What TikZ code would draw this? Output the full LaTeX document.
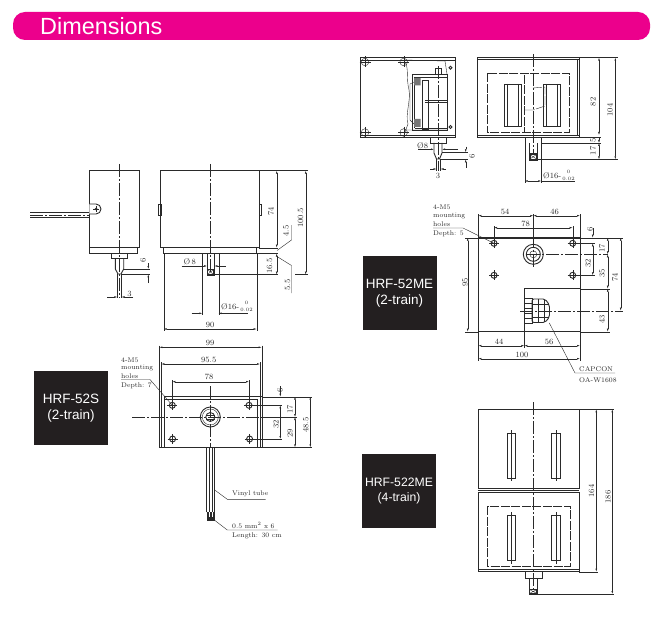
\documentclass[tikz,border=0pt]{standalone}
\usepackage{amsmath}
\usepackage{fontspec}
\usepackage{tikz}
\usetikzlibrary{arrows.meta}
\newfontfamily\bannerfont{Liberation Sans}
\definecolor{bannerpink}{HTML}{EC008C}
\definecolor{boxblack}{HTML}{231F20}
\definecolor{inkgrey}{HTML}{2A2A2A}
\def\screwhole#1#2{\draw[thick line] (#1,#2) circle (3);
  \draw[thin line] (#1-5,#2) -- (#1+5,#2) (#1,#2-5) -- (#1,#2+5);}
\def\cornerhole#1#2{\draw[thin line] (#1,#2) circle (3.8);
  \draw[thin line] (#1-5.5,#2) -- (#1+5.5,#2) (#1,#2-5.5) -- (#1,#2+5.5);}
\def\boretol{Ø16-\,\raisebox{-2.6pt}{\shortstack{\fontsize{5}{5.2}\selectfont 0\\[0.6pt]\fontsize{5}{5.2}\selectfont 0.02}}}
\begin{document}
\begin{tikzpicture} [x=1pt, y=-1pt,
    thick line/.style={line width=0.9pt, draw=inkgrey},
    thin line/.style={line width=0.4pt, draw=inkgrey},
    axis line/.style={line width=0.4pt, draw=inkgrey, dash pattern=on 13pt off 2pt on 2pt off 2pt},
    hidden line/.style={line width=0.4pt, draw=inkgrey, dash pattern=on 9pt off 1.5pt},
    dimen/.style={line width=0.4pt, draw=inkgrey, {Latex[length=3pt,width=1.7pt]}-{Latex[length=3pt,width=1.7pt]}},
    inward/.style={line width=0.4pt, draw=inkgrey, -{Latex[length=3pt,width=1.7pt]}},
    lab/.style={inner sep=0pt, font=\fontsize{8}{8.5}\selectfont, text=inkgrey},
    vlab/.style={lab, rotate=90},
    note/.style={lab, anchor=west, font=\fontsize{6.8}{7}\selectfont},
    tag/.style={fill=boxblack, minimum width=74pt, minimum height=74pt, inner sep=0pt, align=center,
      text=white, font=\bannerfont\fontsize{13.5}{15.5}\selectfont}
  ]
  \useasboundingbox (0,0) rectangle (652,620);
  \fill[white] (0,0) rectangle (652,620);

  % banner
  \fill[bannerpink, rounded corners=12pt] (13,12) rectangle (650,40);
  \node[anchor=west, inner sep=0pt, text=white, font=\bannerfont\fontsize{23.4}{24}\selectfont] (title) at (40,26) {Dimensions};

  % tags
  \node[tag] (tagS) at (71,408) {HRF-52S\\(2-train)};
  \node[tag] (tagME) at (399.5,293) {HRF-52ME\\(2-train)};
  \node[tag, font=\bannerfont\fontsize{12.2}{15.5}\selectfont] (tagFour) at (399,491) {HRF-522ME\\(4-train)};

  %%% HRF-52S side view
  \draw[thick line] (89.3,170.7) rectangle (139.7,247.7);
  \draw[thick line] (89.3,247.7) -- (89.3,253.5) -- (137.7,253.5) -- (137.7,247.7);
  \draw[thick line] (111,253.5) -- (111,258.5) -- (127.7,258.5) -- (127.7,253.5);
  \draw[thick line] (115.3,258.5) -- (115.3,269) -- (118,274) -- (121,274) -- (123.7,269) -- (123.7,258.5);
  \draw[thin line] (117.3,274) -- (117.3,298) (121.5,274) -- (121.5,298);
  \draw[axis line] (119.4,164) -- (119.4,298);
  \draw[thick line, fill=white] (89.3,204) -- (96,204) arc (-90:90:5) -- (89.3,214);
  \draw[thin line] (96,206) -- (96,212) (93,209) -- (99,209);
  \fill[inkgrey] (96,209) circle (1.5);
  \draw[thick line] (30,212) -- (89.3,212) (30,217.5) -- (89.3,217.5);
  \draw[axis line] (30,215) -- (89.3,215);
  \draw[thin line] (124,269) -- (150,269) (122,274.3) -- (150,274.3);
  \draw[inward] (148.3,263) -- (148.3,269);
  \draw[inward] (148.3,283) -- (148.3,274.3);
  \node[vlab] (sideSix) at (143,260) {6};
  \draw[inward] (107,297) -- (117.3,297);
  \draw[inward] (133,297) -- (121.5,297);
  \node[lab] (sideThree) at (129.5,294) {3};

  %%% HRF-52S front view
  \draw[thick line] (160.7,170.7) rectangle (259.3,247.7);
  \draw[thin line] (158.5,204) rectangle (160.7,215) (259.3,204) rectangle (261.5,215);
  \draw[thick line] (163.7,247.7) -- (163.7,253.5) -- (256.7,253.5) -- (256.7,247.7);
  \draw[thin line] (202.3,253.5) -- (202.3,315) (218.7,253.5) -- (218.7,315);
  \draw[thick line] (207,253.5) -- (207,275) -- (214.3,275) -- (214.3,253.5);
  \fill[inkgrey] (207,268.5) rectangle (214.3,275);
  \fill[white] (208.2,270) rectangle (213.1,273.6);
  \draw[thin line] (208,270) -- (213,274) (213,270) -- (208,274);
  \draw[axis line] (210.3,164) -- (210.3,276);
  \draw[thin line] (259.3,170.7) -- (308,170.7) (259.3,247.7) -- (278,247.7) (256.7,253.5) -- (278,253.5)
    (214.3,274.6) -- (278,274.6) (295,274.6) -- (308,274.6);
  \draw[dimen] (276.7,170.7) -- (276.7,247.7);
  \draw[dimen] (276.7,253.5) -- (276.7,274.6);
  \draw[dimen] (305.7,170.7) -- (305.7,274.6);
  \node[vlab] (frontSeventyFour) at (271,211) {74};
  \node[vlab] (frontCentFive) at (300.5,218) {100.5};
  \node[vlab] (frontSixteenFive) at (269.5,266) {16.5};
  \node[vlab] (frontFourFive) at (286,231) {4.5};
  \node[vlab] (frontFiveFive) at (287.5,285) {5.5};
  \draw[thin line] (277,250.5) -- (291.5,240) -- (291.5,225);
  \draw[thin line] (277,256.5) -- (291.5,265.5) -- (291.5,293);
  \draw[thin line] (181.7,266) -- (190,266);
  \draw[inward] (190,266) -- (207,266);
  \draw[inward] (225.7,266) -- (214.3,266);
  \node[lab, anchor=west] (frontEight) at (183.5,261.5) {Ø\,8};
  \draw[inward] (191.7,313.3) -- (202.3,313.3);
  \draw[thin line] (218.7,313.3) -- (248,313.3);
  \draw[inward] (222,313.3) -- (218.7,313.3);
  \node[lab, anchor=west] (frontBore) at (221,306.5) {\boretol};
  \draw[thin line] (163.7,253.5) -- (163.7,331) (256.7,253.5) -- (256.7,331);
  \draw[dimen] (163.7,329) -- (256.7,329);
  \node[lab] (frontNinety) at (210,325) {90};

  %%% HRF-52S plan view
  \draw[thick line] (159.3,396.7) -- (159.3,447.3) -- (262,447.3) -- (262,396.7);
  \draw[thin line] (161.3,396.7) -- (161.3,447.3) (260,396.7) -- (260,447.3);
  \draw[thick line] (164,447.3) -- (164,396.7) -- (262,396.7);
  \draw[thin line] (164,399.3) -- (257.3,399.3) -- (257.3,447.3);
  \draw[thin line] (159.3,345.5) -- (159.3,396.7) (261.7,345.5) -- (261.7,396.7)
    (161.3,362) -- (161.3,396.7) (260,362) -- (260,396.7)
    (172.3,380) -- (172.3,400) (249,380) -- (249,400);
  \draw[dimen] (159.3,347.3) -- (261.7,347.3);
  \draw[dimen] (161.3,364) -- (260,364);
  \draw[dimen] (172.3,381.7) -- (249,381.7);
  \node[lab] (planNinetyNine) at (210,343) {99};
  \node[lab] (planNinetyFive) at (208.7,360) {95.5};
  \node[lab] (planSeventyEight) at (209,377) {78};
  \foreach \hx/\hy in {172.3/405.3, 249/405.3, 172.6/439, 249.6/439}
    {\screwhole{\hx}{\hy}}
  \draw[thick line] (210.3,417) circle (10);
  \draw[thin line] (210.3,417) circle (8);
  \draw[thick line] (210.3,417) circle (4.5);
  \draw[thin line] (206,415) -- (214.6,415) (206,419) -- (214.6,419);
  \draw[axis line] (132,417) -- (296,417);
  \draw[axis line] (210.3,386) -- (210.3,447);
  \draw[thick line] (206.7,447.3) -- (206.7,511.7) (214.7,447.3) -- (214.7,511.7);
  \draw[thin line] (209,447.3) -- (209,511.7) (212,447.3) -- (212,511.7) (206.7,511.7) -- (214.7,511.7);
  \fill[inkgrey] (206.7,511.7) -- (214.7,511.7) -- (214.7,521) -- (206.7,521) -- cycle;
  \draw[white, line width=0.5pt] (209,512) -- (209,517) (212,512) -- (212,517);
  \draw[thin line] (214.7,490) -- (227.3,499.3) -- (265.7,499.3);
  \draw[thin line] (213,519) -- (227.3,530) -- (277.7,530);
  \node[note] (planTube) at (232,494) {Vinyl tube};
  \node[note] (planWire) at (232,525) {0.5 mm$^2$ x 6};
  \node[note] (planLength) at (232,535.5) {Length: 30 cm};
  \draw[thin line] (250,405.3) -- (282,405.3) (250,439) -- (282,439)
    (262,396.7) -- (312,396.7) (262,447.3) -- (312,447.3) (262,417) -- (297,417);
  \draw[inward] (280.3,386) -- (280.3,396.7);
  \draw[dimen] (280.3,405.3) -- (280.3,439);
  \draw[dimen] (295,396.7) -- (295,417);
  \draw[dimen] (295,417) -- (295,447.3);
  \draw[dimen] (310.3,396.7) -- (310.3,447.3);
  \node[vlab] (planSix) at (280,390) {6};
  \node[vlab] (planThirtyTwo) at (276,424) {32};
  \node[vlab] (planSeventeen) at (290,409) {17};
  \node[vlab] (planTwentyNine) at (290,433) {29};
  \node[vlab] (planFortyEight) at (305.7,425) {48.5};
  \node[note] (planMFive) at (121,360) {4-M5};
  \node[note] (planMount) at (121,368) {mounting};
  \node[note] (planHoles) at (121,375.7) {holes};
  \node[note] (planDepth) at (121,385.5) {Depth: 7};
  \draw[thin line] (121,379.5) -- (150,379.5) -- (172.3,405.3);

  %%% HRF-52ME cover-off view
  \draw[thick line] (360.7,57.7) rectangle (455.7,137.3);
  \draw[thin line] (360.7,60) -- (455.7,60) (360.7,135.5) -- (455.7,135.5);
  \foreach \hx/\hy in {365/62, 403.7/62, 365/132.5, 403.7/132.5}
    {\cornerhole{\hx}{\hy}}
  \draw[thin line] (405,62) .. controls (409,68) and (406,78) .. (409,90) .. controls (411,100) and (405,115) .. (408,124) -- (405,132);
  \draw[thin line] (404,60) -- (445,61) -- (447,74) (407,130) -- (447,130);
  \draw[thick line] (412.3,74) rectangle (447,130);
  \draw[thin line] (414.5,77) -- (447,77) (414.5,128) -- (447,128) (414.5,77) -- (414.5,128);
  \draw[thin line] (414,82) -- (410,84) -- (410,120) -- (414,124);
  \fill[inkgrey!65] (414,78) rectangle (420.5,85.5) (414,119) rectangle (420.5,127);
  \draw[thin line] (421.7,80) rectangle (427.7,129) (425,100) -- (447,100) (425,102.5) -- (447,102.5);
  \draw[thin line] (435,74) -- (435,68) -- (441,68) -- (441,74);
  \foreach \hy in {67.7,127}
    {\draw[thick line] (450.5,\hy) circle (1.5);}
  \draw[thick line] (430,137.3) -- (430,143) -- (446.7,143) -- (446.7,137.3);
  \draw[thick line] (434,143) -- (434,153) -- (436.5,159) -- (439.5,159) -- (442,153) -- (442,143);
  \draw[thin line] (436.5,159) -- (436.5,171) (440.5,159) -- (440.5,171);
  \draw[axis line] (438.2,66) -- (438.2,171);
  \draw[thin line] (418,149.3) -- (424,149.3);
  \draw[inward] (424,149.3) -- (434,149.3);
  \draw[inward] (458,149.3) -- (442,149.3);
  \node[lab, anchor=west] (coverEight) at (417,146) {Ø8};
  \draw[thin line] (442,152.3) -- (467.5,152.3) (440,159.3) -- (467.5,159.3);
  \draw[inward] (465.7,146.7) -- (465.7,152.3);
  \draw[inward] (465.7,167.7) -- (465.7,159.3);
  \node[vlab] (coverSix) at (472,156) {6};
  \draw[inward] (430,169) -- (436.5,169);
  \draw[inward] (446,169) -- (440.5,169);
  \node[lab] (coverThree) at (438,175.5) {3};

  %%% HRF-52ME front view
  \draw[thick line] (477.3,57.7) rectangle (579.3,137.7);
  \draw[thin line] (477.3,59.7) -- (579.3,59.7) (477.3,135) -- (579.3,135) (577.3,59.7) -- (577.3,135);
  \draw[hidden line] (486.7,73.3) rectangle (569,132.7);
  \foreach \wx in {504.3,543.3}
    {\draw[thick line] (\wx,84) rectangle (\wx+17.4,126);
     \draw[thin line] (\wx+3,84) -- (\wx+3,126) (\wx+14,84) -- (\wx+14,126);}
  \draw[hidden line] (533,88) -- (545,87) -- (545,106) -- (533,110) (524,110) -- (533,110);
  \draw[hidden line] (524,75) -- (524,132);
  \draw[axis line] (532.7,54) -- (532.7,160);
  \draw[thin line] (524.7,137.7) -- (524.7,183) (541.3,137.7) -- (541.3,183);
  \draw[thick line] (529.3,143) -- (529.3,160) -- (537,160) -- (537,143);
  \fill[inkgrey] (529.3,153.5) rectangle (537,160);
  \fill[white] (530.5,155) rectangle (535.8,158.6);
  \draw[thin line] (530.5,155) -- (535.8,158.6) (535.8,155) -- (530.5,158.6);
  \draw[thin line] (579.3,57.7) -- (618,57.7) (579.3,137.7) -- (601,137.7)
    (541.3,143) -- (601,143) (537,159.3) -- (618,159.3);
  \draw[dimen] (599,57.7) -- (599,135);
  \draw[inward] (599,137.7) -- (599,143);
  \draw[dimen] (599,143) -- (599,159.3);
  \draw[dimen] (615.3,57.7) -- (615.3,159.3);
  \node[vlab] (frontEightyTwo) at (593,102) {82};
  \node[vlab] (frontHundredFour) at (610,110) {104};
  \node[vlab] (frontFive) at (593,140.5) {5};
  \node[vlab] (frontSeventeen) at (593,151) {17};
  \draw[dimen] (524.7,181) -- (541.3,181);
  \draw[thin line] (541.3,181) -- (575,181);
  \node[lab, anchor=west] (frontBoreME) at (543,175.5) {\boretol};

  %%% HRF-52ME plan view
  \draw[thick line] (478.3,237.7) rectangle (580,331.7);
  \draw[thick line] (524.3,331.7) -- (524.3,288.7) -- (580,288.7);
  \foreach \hx/\hy in {494/243.3, 572.7/243.3, 494/275.3, 572.7/275.3}
    {\screwhole{\hx}{\hy}}
  \draw[thick line] (533.3,254.3) circle (10);
  \draw[thick line] (533.3,254.3) circle (7);
  \draw[thin line] (533.3,254.3) circle (3.5);
  \draw[thin line] (530,254.3) -- (537,254.3);
  \draw[axis line] (533.3,215.7) -- (533.3,268);
  \draw[axis line] (527,254.3) -- (608,254.3);
  \draw[thick line] (524.3,298) rectangle (532,323);
  \draw[thick line, rounded corners=2pt] (532,299) -- (545,299) -- (549.5,305) -- (549.5,317) -- (545,322.5) -- (532,322.5) -- cycle;
  \draw[thin line] (524.3,303) -- (532,303) (524.3,308) -- (532,308) (524.3,313) -- (532,313) (524.3,318) -- (532,318)
    (532,304) -- (549,304) (532,317.5) -- (549,317.5) (538,299) -- (538,322.5) (544,299.5) -- (544,322);
  \draw[axis line] (520,310.7) -- (623,310.7);
  \draw[thin line] (478.3,214) -- (478.3,237.7) (580,214) -- (580,237.7) (533.3,214) -- (533.3,245)
    (494,226) -- (494,240) (572.7,226) -- (572.7,240) (465,237.7) -- (623,237.7)
    (465,331.7) -- (478.3,331.7) (580,331.7) -- (610,331.7) (580,288.7) -- (610,288.7)
    (574,243.3) -- (594.5,243.3) (574,275.3) -- (594.5,275.3)
    (478.3,331.7) -- (478.3,360.5) (580,331.7) -- (580,360.5) (524.3,331.7) -- (524.3,347.5);
  \draw[dimen] (478.3,215.7) -- (533.3,215.7);
  \draw[dimen] (533.3,215.7) -- (580,215.7);
  \draw[dimen] (494,227.7) -- (572.7,227.7);
  \node[lab] (planFiftyFour) at (505,212) {54};
  \node[lab] (planFortySix) at (554.5,212) {46};
  \node[lab] (planSeventyEightME) at (525.7,224) {78};
  \draw[inward] (592.7,228) -- (592.7,237.7);
  \draw[dimen] (592.7,243.3) -- (592.7,275.3);
  \draw[dimen] (607.7,237.7) -- (607.7,254.3);
  \draw[dimen] (607.7,254.3) -- (607.7,288.7);
  \draw[dimen] (607.7,288.7) -- (607.7,331.7);
  \draw[dimen] (620.7,237.7) -- (620.7,310.7);
  \draw[dimen] (467.7,237.7) -- (467.7,331.7);
  \node[vlab] (planSixME) at (590,229) {6};
  \node[vlab] (planThirtyTwoME) at (588,263) {32};
  \node[vlab] (planSeventeenME) at (602,248) {17};
  \node[vlab] (planThirtyFive) at (602,273) {35};
  \node[vlab] (planFortyThree) at (602,319) {43};
  \node[vlab] (planSeventyFour) at (615,277) {74};
  \node[vlab] (planNinetyFiveME) at (465,282) {95};
  \draw[dimen] (478.3,345.7) -- (524.3,345.7);
  \draw[dimen] (524.3,345.7) -- (580,345.7);
  \draw[dimen] (478.3,358.7) -- (580,358.7);
  \node[lab] (planFortyFour) at (499,342) {44};
  \node[lab] (planFiftySix) at (549,342) {56};
  \node[lab] (planHundred) at (522,355) {100};
  \draw[thin line] (549.3,323) -- (575,373) -- (615,373);
  \node[note] (planCapcon) at (579,369) {CAPCON};
  \node[note] (planModel) at (579,380) {OA-W1608};
  \node[note] (planMFiveME) at (433,207) {4-M5};
  \node[note] (planMountME) at (433,216) {mounting};
  \node[note] (planHolesME) at (433,224) {holes};
  \node[note] (planDepthME) at (433,233.5) {Depth: 5};
  \draw[thin line] (433,228) -- (463,228) -- (494,243.3);

  %%% HRF-522ME front view
  \draw[thick line] (478.3,409.3) rectangle (579.3,488.7);
  \draw[thick line] (478.3,492) rectangle (579.3,571.7);
  \draw[thin line] (478.3,490.5) -- (579.3,490.5) (478.3,569.5) -- (579.3,569.5);
  \foreach \wx in {507.3,551.7}
    {\draw[thick line] (\wx,433.3) rectangle (\wx+8.4,478.3);
     \draw[thin line] (\wx+4.2,430) -- (\wx+4.2,481);
     \draw[thick line] (\wx,515) rectangle (\wx+8.4,560.7);
     \draw[thin line] (\wx+4.2,512) -- (\wx+4.2,564);}
  \draw[hidden line] (487.3,506.3) rectangle (570,566);
  \draw[axis line] (533.3,402) -- (533.3,595);
  \draw[thick line] (525.7,571.7) -- (525.7,578.3) -- (542.7,578.3) -- (542.7,571.7);
  \draw[thick line] (529.3,578.3) -- (529.3,594) -- (537,594) -- (537,578.3);
  \fill[inkgrey] (529.3,589) rectangle (537,594);
  \fill[white] (530.3,590) rectangle (536,593);
  \draw[thin line] (530.3,590) -- (536,593) (536,590) -- (530.3,593);
  \draw[thin line] (579.3,409.3) -- (614,409.3) (579.3,571.7) -- (598,571.7) (537,594) -- (614,594);
  \draw[dimen] (596.3,409.3) -- (596.3,571.7);
  \draw[dimen] (612.3,409.3) -- (612.3,594);
  \node[vlab] (fourSixtyFour) at (591.5,491) {164};
  \node[vlab] (fourEightySix) at (608,497) {186};
\end{tikzpicture}
\end{document}
